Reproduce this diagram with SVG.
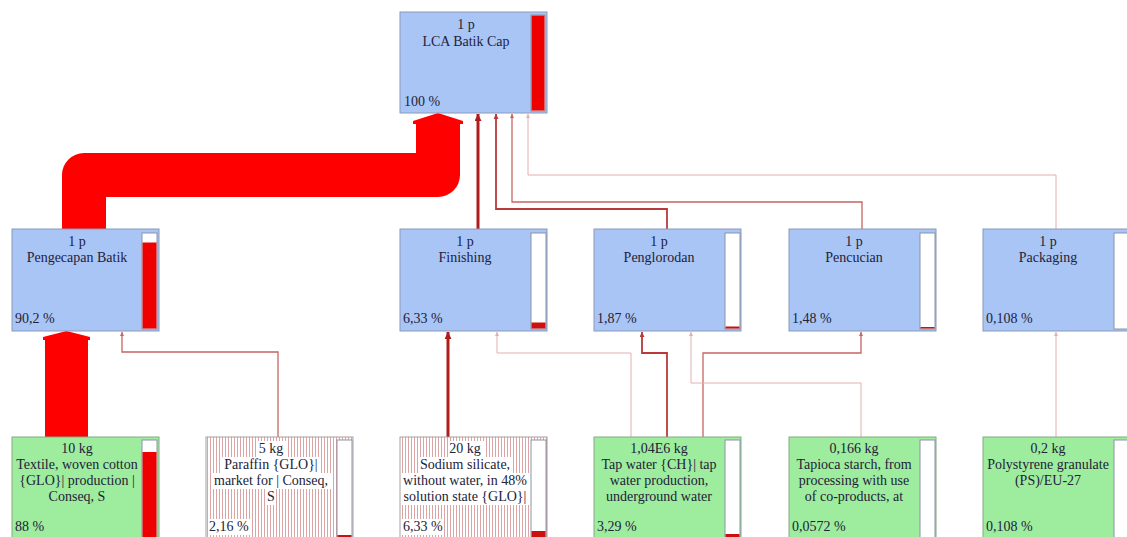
<svg xmlns="http://www.w3.org/2000/svg" width="1127" height="537" viewBox="0 0 1127 537">
<style>
.blue{fill:#a9c5f6;stroke:#8a9ab8;stroke-width:1}
.green{fill:#9eec9e;stroke:#86a886;stroke-width:1}
.stripe{fill:url(#stripes);stroke:#a8a0a0;stroke-width:1}
.bar{fill:#ffffff;stroke:#8a94a8;stroke-width:1}
.red{fill:#ee0000}
.dred{fill:#cc1010}
.t{font-family:"Liberation Serif","Times New Roman",serif;font-size:14px;fill:#222238;text-anchor:middle}
.p{text-anchor:start}
.bg{fill:#ffffff}
.c{fill:none}
.c1{stroke:#b01c1c;stroke-width:3}
.c2{stroke:#b83a3a;stroke-width:1.8}
.c3{stroke:#c86464;stroke-width:1.3}
.c4{stroke:#e2b0b0;stroke-width:1}
</style>
<defs>
<pattern id="stripes" patternUnits="userSpaceOnUse" width="3" height="10">
<rect width="3" height="10" fill="#ffffff"/>
<line x1="0.5" y1="0" x2="0.5" y2="10" stroke="#dca4a4" stroke-width="1"/>
</pattern>
<marker id="m1" markerUnits="userSpaceOnUse" markerWidth="7" markerHeight="7" viewBox="0 0 6 6" refX="6" refY="3" orient="auto"><path d="M0,0 L6,3 L0,6 z" fill="#b01c1c"/></marker>
<marker id="m2" markerUnits="userSpaceOnUse" markerWidth="5" markerHeight="5" viewBox="0 0 6 6" refX="6" refY="3" orient="auto"><path d="M0,0 L6,3 L0,6 z" fill="#b83a3a"/></marker>
<marker id="m3" markerUnits="userSpaceOnUse" markerWidth="4" markerHeight="4" viewBox="0 0 6 6" refX="6" refY="3" orient="auto"><path d="M0,0 L6,3 L0,6 z" fill="#c86464"/></marker>
<marker id="m4" markerUnits="userSpaceOnUse" markerWidth="4" markerHeight="4" viewBox="0 0 6 6" refX="6" refY="3" orient="auto"><path d="M0,0 L6,3 L0,6 z" fill="#e2b0b0"/></marker>
</defs>

<g id="connectors">
<path d="M84 229 L84 175 L438 175 L438 122" fill="none" stroke="#ff0000" stroke-width="44" stroke-linejoin="round"/>
<polygon points="413,124 413,121 438,113 463,121 463,124" fill="#ff0000"/>
<rect x="45" y="339" width="43" height="98" fill="#ff0000"/>
<polygon points="43,340 43,337 66.5,331 90,337 90,340" fill="#ff0000"/>
<path class="c c1" d="M478 229 V114" marker-end="url(#m1)"/>
<path class="c c2" d="M667 229 V209 H496 V114" marker-end="url(#m2)"/>
<path class="c c3" d="M862 229 V202 H512 V114" marker-end="url(#m3)"/>
<path class="c c4" d="M1056 229 V175 H528 V114" marker-end="url(#m4)"/>
<path class="c c3" d="M278 437 V352 H122 V332" marker-end="url(#m3)"/>
<path class="c c1" d="M448 437 V332" marker-end="url(#m1)"/>
<path class="c c4" d="M631 437 V353 H497 V332" marker-end="url(#m4)"/>
<path class="c c2" d="M667 437 V353 H642 V332" marker-end="url(#m2)"/>
<path class="c c3" d="M703 437 V353 H861 V332" marker-end="url(#m3)"/>
<path class="c c4" d="M861 437 V383 H691 V332" marker-end="url(#m4)"/>
<path class="c c4" d="M1056 437 V332" marker-end="url(#m4)"/>
</g>

<g id="n-lca">
<rect class="blue" x="400" y="12" width="147" height="101"/>
<rect class="bar" x="531" y="15" width="14" height="96"/>
<rect class="red" x="531.5" y="15.5" width="13" height="95"/>
<text class="t" x="466" y="29">1 p</text>
<text class="t" x="466" y="46">LCA Batik Cap</text>
<text class="t p" x="404" y="106">100 %</text>
</g>

<g id="n-pengecapan">
<rect class="blue" x="12" y="229" width="147" height="102"/>
<rect class="bar" x="142" y="233" width="15" height="96"/>
<rect class="red" x="142.5" y="242.5" width="14" height="86"/>
<text class="t" x="77" y="246">1 p</text>
<text class="t" x="77" y="262">Pengecapan Batik</text>
<text class="t p" x="15" y="323">90,2 %</text>
</g>

<g id="n-finishing">
<rect class="blue" x="400" y="229" width="147" height="102"/>
<rect class="bar" x="531" y="233" width="15" height="96"/>
<rect class="dred" x="531.5" y="322.5" width="14" height="6"/>
<text class="t" x="465" y="246">1 p</text>
<text class="t" x="465" y="262">Finishing</text>
<text class="t p" x="403" y="323">6,33 %</text>
</g>

<g id="n-penglorodan">
<rect class="blue" x="594" y="229" width="147" height="102"/>
<rect class="bar" x="725" y="233" width="15" height="96"/>
<rect class="dred" x="725.5" y="326.5" width="14" height="2"/>
<text class="t" x="659" y="246">1 p</text>
<text class="t" x="659" y="262">Penglorodan</text>
<text class="t p" x="597" y="323">1,87 %</text>
</g>

<g id="n-pencucian">
<rect class="blue" x="789" y="229" width="147" height="102"/>
<rect class="bar" x="920" y="233" width="15" height="96"/>
<rect class="dred" x="920.5" y="327" width="14" height="1.5"/>
<text class="t" x="854" y="246">1 p</text>
<text class="t" x="854" y="262">Pencucian</text>
<text class="t p" x="792" y="323">1,48 %</text>
</g>

<g id="n-packaging">
<rect class="blue" x="983" y="229" width="147" height="102"/>
<rect class="bar" x="1114" y="233" width="15" height="96"/>
<text class="t" x="1048" y="246">1 p</text>
<text class="t" x="1048" y="262">Packaging</text>
<text class="t p" x="986" y="323">0,108 %</text>
</g>

<g id="n-textile">
<rect class="green" x="12" y="437" width="147" height="104"/>
<rect class="bar" x="142" y="440" width="15" height="98"/>
<rect class="red" x="142.5" y="452" width="14" height="86"/>
<text class="t" x="77" y="453">10 kg</text>
<text class="t" x="77" y="469">Textile, woven cotton</text>
<text class="t" x="77" y="485">{GLO}| production |</text>
<text class="t" x="77" y="501">Conseq, S</text>
<text class="t p" x="15" y="531">88 %</text>
</g>

<g id="n-paraffin">
<rect class="stripe" x="206" y="437" width="147" height="104"/>
<rect class="bar" x="337" y="440" width="15" height="98"/>
<rect class="dred" x="337.5" y="535" width="14" height="2"/>
<rect class="bg" x="257" y="441" width="30" height="16"/>
<rect class="bg" x="222" y="457" width="98" height="16"/>
<rect class="bg" x="212" y="473" width="119" height="16"/>
<rect class="bg" x="266" y="489" width="10" height="16"/>
<rect class="bg" x="208" y="519" width="42" height="16"/>
<text class="t" x="271" y="453">5 kg</text>
<text class="t" x="271" y="469">Paraffin {GLO}|</text>
<text class="t" x="271" y="485">market for | Conseq,</text>
<text class="t" x="271" y="501">S</text>
<text class="t p" x="209" y="531">2,16 %</text>
</g>

<g id="n-sodium">
<rect class="stripe" x="400" y="437" width="147" height="104"/>
<rect class="bar" x="531" y="440" width="15" height="98"/>
<rect class="dred" x="531.5" y="531" width="14" height="6"/>
<rect class="bg" x="449" y="441" width="36" height="16"/>
<rect class="bg" x="420" y="457" width="93" height="16"/>
<rect class="bg" x="402" y="473" width="127" height="16"/>
<rect class="bg" x="402" y="489" width="128" height="16"/>
<rect class="bg" x="402" y="519" width="42" height="16"/>
<text class="t" x="465" y="453">20 kg</text>
<text class="t" x="465" y="469">Sodium silicate,</text>
<text class="t" x="465" y="485">without water, in 48%</text>
<text class="t" x="465" y="501">solution state {GLO}|</text>
<text class="t p" x="403" y="531">6,33 %</text>
</g>

<g id="n-tapwater">
<rect class="green" x="594" y="437" width="147" height="104"/>
<rect class="bar" x="725" y="440" width="15" height="98"/>
<rect class="dred" x="725.5" y="534" width="14" height="3"/>
<text class="t" x="659" y="453">1,04E6 kg</text>
<text class="t" x="659" y="469">Tap water {CH}| tap</text>
<text class="t" x="659" y="485">water production,</text>
<text class="t" x="659" y="501">underground water</text>
<text class="t p" x="597" y="531">3,29 %</text>
</g>

<g id="n-tapioca">
<rect class="green" x="789" y="437" width="147" height="104"/>
<rect class="bar" x="920" y="440" width="15" height="98"/>
<text class="t" x="854" y="453">0,166 kg</text>
<text class="t" x="854" y="469">Tapioca starch, from</text>
<text class="t" x="854" y="485">processing with use</text>
<text class="t" x="854" y="501">of co-products, at</text>
<text class="t p" x="792" y="531">0,0572 %</text>
</g>

<g id="n-polystyrene">
<rect class="green" x="983" y="437" width="147" height="104"/>
<rect class="bar" x="1114" y="440" width="15" height="98"/>
<text class="t" x="1048" y="453">0,2 kg</text>
<text class="t" x="1048" y="469">Polystyrene granulate</text>
<text class="t" x="1048" y="485">(PS)/EU-27</text>
<text class="t p" x="986" y="531">0,108 %</text>
</g>
</svg>
